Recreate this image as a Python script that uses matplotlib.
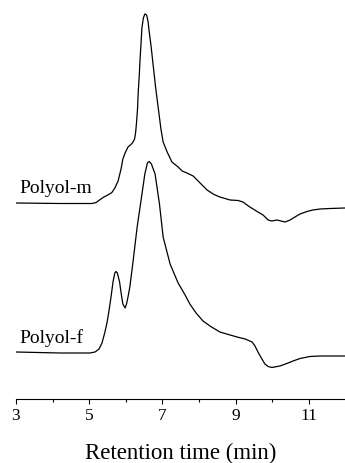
import numpy as np
import matplotlib
matplotlib.use("Agg")
import matplotlib.pyplot as plt

plt.rcParams['font.family'] = ['Liberation Serif', 'DejaVu Serif']

# GPC traces, retention time (min) vs detector signal (arb. units, own baseline = 0)
t_m = [3.00, 4.20, 5.08, 5.19, 5.30, 5.40, 5.51, 5.62, 5.70, 5.79, 5.87, 5.92,
       5.98, 6.06, 6.14, 6.19, 6.24, 6.27, 6.29, 6.32, 6.34, 6.37, 6.39, 6.42,
       6.44, 6.48, 6.52, 6.57, 6.61, 6.63, 6.69, 6.75, 6.81, 6.89, 6.96, 7.02,
       7.13, 7.26, 7.43, 7.54, 7.67, 7.84, 8.03, 8.22, 8.41, 8.57, 8.85, 9.07,
       9.20, 9.39, 9.61, 9.75, 9.89, 9.99, 10.13, 10.24, 10.35, 10.49, 10.62,
       10.76, 10.95, 11.11, 11.31, 11.58, 11.99]
sig_m = [0.5, 0, 0, 1, 4, 6.5, 8.5, 11, 15.5, 22.5, 34.5, 44.5,
         50.5, 56.5, 59, 61, 64.5, 71.5, 79.5, 94.5, 111.5, 129.5, 144.5, 162.5,
         175.5, 185.5, 189.5, 188.5, 181.5, 174.5, 157.5, 137.5, 117.5, 94.5, 74.5, 61.5,
         51.5, 41.5, 36.5, 32.5, 30.5, 27.5, 20.5, 13.5, 9, 6.5, 3.5, 3,
         1.5, -3.5, -8.5, -11.5, -16.5, -17.5, -16.5, -17.5, -18.5, -16.5, -13.5,
         -10.5, -8, -6.5, -5.5, -5, -4.5]

t_f = [3.00, 4.20, 5.02, 5.16, 5.27, 5.35, 5.43, 5.49, 5.54, 5.60, 5.65, 5.70,
       5.73, 5.77, 5.83, 5.88, 5.92, 5.98, 6.02, 6.06, 6.11, 6.20, 6.31, 6.43,
       6.52, 6.59, 6.64, 6.70, 6.80, 6.92, 7.02, 7.21, 7.43, 7.62, 7.75, 7.92,
       8.11, 8.30, 8.57, 8.85, 9.04, 9.26, 9.45, 9.53, 9.61, 9.72, 9.80, 9.89,
       9.99, 10.21, 10.40, 10.57, 10.76, 11.03, 11.31, 11.58, 11.99]
sig_f = [1, 0, 0, 1, 4, 10, 21, 31, 42, 57, 71, 80,
         81.5, 80, 71, 58, 49, 45, 49, 56, 66, 92, 126, 156,
         179, 190, 191.5, 189, 179, 149, 116, 89, 70, 58, 49, 40,
         32, 27, 21, 18, 16, 14, 11, 7, 1, -6, -11, -13.5,
         -14.5, -13, -10.5, -8, -5.5, -3.5, -3, -3, -3]

# vertical stacking of the two traces
offset_m = 195.5
offset_f = 46
names = ['Polyol-m', 'Polyol-f']

major_ticks = [3, 5, 7, 9, 11]
minor_ticks = [4, 6, 8, 10]

fig = plt.figure(figsize=(3.45, 4.64), dpi=100)
ax = fig.add_axes([16 / 345, 1 - 400 / 464, 329.4 / 345, 400 / 464])

ax.plot(t_m, np.array(sig_m) + offset_m, color='black', lw=0.9)
ax.plot(t_f, np.array(sig_f) + offset_f, color='black', lw=0.9)

ax.text(3.08, offset_m + 11.5, names[0], fontsize=14, va='baseline', ha='left')
ax.text(3.08, offset_f + 11, names[1], fontsize=14, va='baseline', ha='left')

ax.set_xlim(3, 12)
ax.set_ylim(0, 400)
ax.set_xticks(major_ticks)
ax.set_xticks(minor_ticks, minor=True)
ax.tick_params(axis='x', which='major', direction='out', length=3.5, width=0.8,
               labelsize=12.5, pad=2.5)
ax.tick_params(axis='x', which='minor', direction='out', length=2.2, width=0.8)
ax.set_yticks([])
for s in ['left', 'right', 'top']:
    ax.spines[s].set_visible(False)
ax.spines['bottom'].set_linewidth(0.8)
ax.set_xlabel('Retention time (min)', fontsize=16.5, labelpad=13)
ax.patch.set_alpha(0)

fig.savefig('out.png', dpi=100)
